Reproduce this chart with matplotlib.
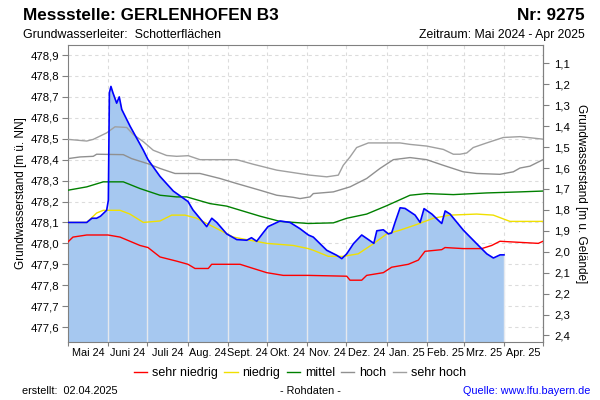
import numpy as np
import pandas as pd
import matplotlib
matplotlib.use("Agg")
import matplotlib.pyplot as plt
import matplotlib.dates as mdates
from matplotlib.ticker import FuncFormatter, MultipleLocator

plt.rcParams['font.family'] = ['Liberation Sans', 'DejaVu Sans']

START = pd.Timestamp("2024-05-01")
GELAENDE = 479.96  # Geländehöhe [m ü. NN]

# Tage seit 01.05.2024 und Wasserstände [m ü. NN]
sehr_niedrig_tage = [0, 3.8, 14.4, 30.7, 40, 55.3, 61.5, 70.7, 83.5, 92.2, 97.6, 107.8, 110.4, 132.2,
                     142.4, 152.7, 165.4, 184.4, 214.2, 216.7, 225.7, 229.5, 242.3, 248.7, 261.5, 269.2,
                     274.3, 287.2, 289.7, 303.7, 317.9, 325.6, 331.9, 361.4, 365]
sehr_niedrig = [478.007, 478.03, 478.04, 478.04, 478.03, 477.99, 477.98, 477.935, 477.915, 477.90, 477.88,
                477.88, 477.90, 477.90, 477.88, 477.86, 477.847, 477.847, 477.843, 477.824, 477.824, 477.847,
                477.86, 477.886, 477.90, 477.92, 477.962, 477.97, 477.98, 477.975, 477.975, 477.99, 478.01,
                478.00, 478.01]

niedrig_tage = [0, 14.4, 22, 27.1, 40, 47.6, 57.9, 70.7, 79.7, 89.9, 98.9, 106.6, 116.8, 127, 139.8, 152.7,
                173.1, 184.6, 188.5, 200, 211.5, 223, 234.6, 244.9, 255.1, 267.9, 280.7, 293.5, 314, 326.8,
                339.6, 365]
niedrig = [478.10, 478.10, 478.145, 478.158, 478.158, 478.14, 478.10, 478.107, 478.135, 478.135, 478.12,
           478.095, 478.063, 478.03, 478.015, 478.00, 477.99, 477.975, 477.967, 477.938, 477.938, 477.95,
           477.998, 478.045, 478.063, 478.09, 478.12, 478.135, 478.14, 478.135, 478.105, 478.105]

mittel_tage = [0, 14.4, 27.1, 42.5, 55.3, 70.7, 83.5, 91.2, 109.1, 121.9, 147.5, 162.9, 184.7, 203.9, 214.2,
               229.5, 244.9, 262.8, 275.6, 296.1, 321.7, 347.3, 365]
mittel = [478.254, 478.27, 478.294, 478.294, 478.262, 478.23, 478.222, 478.222, 478.19, 478.178, 478.13,
          478.105, 478.095, 478.098, 478.12, 478.14, 478.18, 478.23, 478.238, 478.233, 478.241, 478.246, 478.25]

hoch_tage = [0, 9.2, 19.4, 22, 42.5, 48.9, 61.7, 70.7, 82.2, 101.4, 116.8, 129.6, 147.5, 160.4, 173.1, 178.3,
             186, 188.5, 203.9, 216.7, 229.5, 239.7, 250, 262.8, 275.6, 288.4, 303.7, 314, 331.9, 342.2,
             347.3, 355, 365]
hoch = [478.405, 478.413, 478.416, 478.426, 478.424, 478.405, 478.38, 478.358, 478.334, 478.334, 478.31,
        478.286, 478.254, 478.23, 478.22, 478.214, 478.222, 478.238, 478.246, 478.27, 478.31, 478.358, 478.40,
        478.41, 478.40, 478.373, 478.342, 478.334, 478.33, 478.342, 478.36, 478.369, 478.40]

sehr_hoch_tage = [0, 14.4, 19.4, 29.7, 36.1, 45.1, 50.2, 57.9, 65.5, 75.8, 83.5, 92.4, 101.4, 111.6, 129.6,
                  142.4, 160.4, 186, 198.8, 207.7, 211.5, 216.7, 221.8, 230.8, 255.1, 262.8, 275.6, 288.4,
                  296.1, 301.2, 306.4, 311.4, 321.7, 334.5, 347.3, 365]
sehr_hoch = [478.497, 478.489, 478.497, 478.528, 478.557, 478.554, 478.52, 478.486, 478.445, 478.42, 478.416,
             478.419, 478.40, 478.40, 478.40, 478.378, 478.35, 478.326, 478.318, 478.326, 478.373, 478.413,
             478.458, 478.48, 478.48, 478.473, 478.465, 478.449, 478.426, 478.426, 478.432, 478.458, 478.48,
             478.506, 478.51, 478.498]

messung_tage = [0, 14.4, 18.4, 22, 25, 29.7, 31, 31.8, 33, 34.5, 37.4, 39.4, 41.3, 47.7, 57.9, 61.5, 70.7,
                80.9, 92.2, 96, 106.6, 110.5, 114.3, 122, 129.7, 137.4, 141, 145, 149.9, 153.7, 163, 170.6,
                178.3, 184.7, 188.5, 198.8, 206.5, 210.4, 214.2, 219.3, 225.7, 233.4, 235, 237.3, 242.3,
                246.2, 248.7, 251.3, 255.2, 259, 266.7, 270.6, 273.6, 279.6, 284.6, 287.2, 289.8, 293.6,
                303.8, 314.1, 321.8, 326.9, 332, 335]
messung = [478.10, 478.10, 478.12, 478.12, 478.13, 478.158, 478.206, 478.72, 478.75, 478.72, 478.67, 478.70,
           478.64, 478.56, 478.445, 478.40, 478.32, 478.25, 478.20, 478.16, 478.08, 478.12, 478.10, 478.045,
           478.018, 478.015, 478.027, 478.01, 478.05, 478.08, 478.107, 478.10, 478.07, 478.04, 478.03, 477.967,
           477.943, 477.927, 477.95, 477.998, 478.04, 478.007, 478.00, 478.06, 478.065, 478.045, 478.05, 478.10,
           478.17, 478.167, 478.135, 478.10, 478.166, 478.14, 478.11, 478.095, 478.155, 478.14, 478.063,
           477.998, 477.95, 477.93, 477.945, 477.945]

monate = ["Mai 24", "Juni 24", "Juli 24", "Aug. 24", "Sept. 24", "Okt. 24", "Nov. 24", "Dez. 24",
          "Jan. 25", "Feb. 25", "Mrz. 25", "Apr. 25"]


def to_dates(tage):
    return START + pd.to_timedelta(np.array(tage), unit="D")


fig = plt.figure(figsize=(6, 4), dpi=100)
ax = fig.add_axes([68 / 600, 1 - 341.5 / 400, 475 / 600, 296.5 / 400])

month_edges = pd.date_range("2024-05-01", "2025-05-01", freq="MS")
month_mid = month_edges[:-1] + (month_edges[1:] - month_edges[:-1]) / 2

YMIN, YMAX = 477.531, 478.948
ax.set_xlim(month_edges[0], month_edges[-1])
ax.set_ylim(YMIN, YMAX)

# Raster hinter der Fläche
for y in np.arange(477.6, 478.95, 0.1):
    ax.axhline(y, color="#dcdcdc", lw=0.8, ls=(0, (3, 3)), zorder=0)
for d in month_edges[1:-1]:
    ax.axvline(d, color="#dcdcdc", lw=0.8, ls=(0, (3, 3)), zorder=0)

mx = to_dates(messung_tage)
ax.fill_between(mx, messung, YMIN, color="#a6c8f0", lw=0, zorder=1)

# Monatslinien über der Fläche
for d in month_edges[1:-1]:
    if d <= mx[-1]:
        top = np.interp(mdates.date2num(d), mdates.date2num(mx), messung)
        ax.vlines(d, YMIN, top, color="#e4e8ee", lw=1.0, zorder=2)

ax.plot(to_dates(sehr_hoch_tage), sehr_hoch, color="#a0a0a0", lw=1.0, zorder=3)
ax.plot(to_dates(hoch_tage), hoch, color="#909090", lw=1.0, zorder=3)
ax.plot(to_dates(mittel_tage), mittel, color="#008000", lw=1.0, zorder=3)
ax.plot(to_dates(niedrig_tage), niedrig, color="#f0e000", lw=1.0, zorder=3)
ax.plot(to_dates(sehr_niedrig_tage), sehr_niedrig, color="#ff0000", lw=1.0, zorder=3)
ax.plot(mx, messung, color="#0000ff", lw=1.2, zorder=4)

for s in ax.spines.values():
    s.set_color("#808080")

comma = FuncFormatter(lambda v, p: f"{v:.1f}".replace(".", ","))
ax.yaxis.set_major_locator(MultipleLocator(0.1))
ax.yaxis.set_major_formatter(comma)
ax.tick_params(axis="y", labelsize=8.2, length=4.5, color="#808080", pad=1.5)

ax.set_xticks(month_edges)
ax.set_xticklabels([])
ax.set_xticks(month_mid, minor=True)
ax.set_xticklabels(monate, minor=True)
ax.tick_params(axis="x", which="major", length=3, color="#808080")
ax.tick_params(axis="x", which="minor", length=0, labelsize=7.8, pad=5)

ax.set_ylabel("Grundwasserstand [m ü. NN]", fontsize=8.5, labelpad=3)

sec = ax.secondary_yaxis("right", functions=(lambda v: GELAENDE - v, lambda v: GELAENDE - v))
sec.set_yticks(np.round(np.arange(1.1, 2.45, 0.1), 1))
sec.yaxis.set_major_formatter(comma)
sec.tick_params(labelsize=8.2, length=4, color="#808080", pad=4)
sec.spines["right"].set_color("#808080")
sec.set_ylabel("Grundwasserstand [m u. Gelände]", fontsize=8.5, rotation=270, labelpad=12)

# Kopfzeile
fig.text(23 / 600, 1 - 19.5 / 400, "Messstelle: GERLENHOFEN B3", fontsize=12.3, fontweight="bold", va="baseline")
fig.text(585 / 600, 1 - 19.5 / 400, "Nr: 9275", fontsize=12.3, fontweight="bold", va="baseline", ha="right")
fig.text(23 / 600, 1 - 37.8 / 400, "Grundwasserleiter:  Schotterflächen", fontsize=8.9, va="baseline")
fig.text(585 / 600, 1 - 37.8 / 400, "Zeitraum: Mai 2024 - Apr 2025", fontsize=8.8, va="baseline", ha="right")

# Legende
handles = [plt.Line2D([], [], color=c, lw=1.0) for c in ["#ff0000", "#f0e000", "#008000", "#909090", "#a0a0a0"]]
fig.legend(handles, ["sehr niedrig", "niedrig", "mittel", "hoch", "sehr hoch"], loc="center",
           bbox_to_anchor=(0.5, 1 - 373 / 400), ncol=5, frameon=False, fontsize=9,
           handlelength=1.05, handletextpad=0.4, columnspacing=0.5)

# Fußzeile
fig.text(22 / 600, 1 - 391.5 / 400, "erstellt:  02.04.2025", fontsize=7.8, va="center")
fig.text(310 / 600, 1 - 391.5 / 400, "- Rohdaten -", fontsize=7.8, va="center", ha="center")
fig.text(590 / 600, 1 - 391.5 / 400, "Quelle: www.lfu.bayern.de", fontsize=7.8, va="center", ha="right",
         color="#0000ff")

fig.savefig("out.png", dpi=100)
